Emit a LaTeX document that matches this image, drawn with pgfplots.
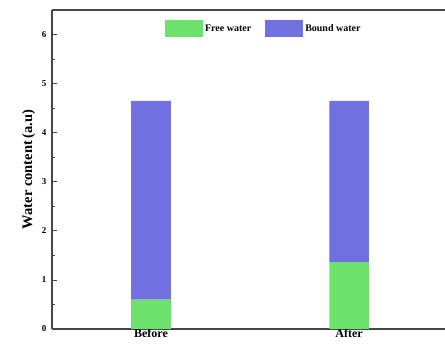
\documentclass[border=0pt]{standalone}
\usepackage{pgfplots}
\pgfplotsset{compat=1.18}
\usepackage{fontspec}
\setmainfont{Liberation Serif}
\definecolor{fw}{RGB}{108,226,108}
\definecolor{bw}{RGB}{112,112,224}
\definecolor{ax}{RGB}{70,70,70}
\begin{document}
\begin{tikzpicture}
\path[use as bounding box] (0,0) rectangle (445pt,347pt);
\begin{axis}[
  at={(52pt,18pt)}, anchor=south west,
  scale only axis, width=404pt, height=319pt,
  xmin=-0.5, xmax=1.54, ymin=0, ymax=6.5,
  axis x line*=box, axis y line*=left,
  ybar stacked, bar width=0.2,
  xtick={0,1}, xticklabels={Before,After},
  ytick={0,1,2,3,4,5,6},
  minor y tick num=1,
  tick align=inside,
  xtick style={draw=none},
  ytick style={ax, line width=0.8pt},
  major tick length=5pt, minor tick length=3pt,
  axis line style={ax, line width=1.4pt, -},
  yticklabel style={font=\small\bfseries, xshift=-2pt},
  xticklabel style={font=\large\bfseries, yshift=3pt},
  /pgf/number format/assume math mode=true,
  ylabel={\bfseries Water content\,(a.u)},
  ylabel style={font=\fontsize{14.5}{16}\selectfont, yshift=0pt},
  legend style={draw=none, fill=none, at={(0.272,0.975)}, anchor=north west,
    legend columns=2, font=\normalsize\bfseries,
    /tikz/every even column/.append style={column sep=12pt}},
  legend image code/.code={\fill[#1] (0pt,-8pt) rectangle (38pt,9pt);},
]
\addplot[fill=fw, draw=none] coordinates {(0,0.6) (1,1.36)};
\addplot[fill=bw, draw=none] coordinates {(0,4.05) (1,3.29)};
\legend{Free water, Bound water}
\end{axis}
\end{tikzpicture}
\end{document}
